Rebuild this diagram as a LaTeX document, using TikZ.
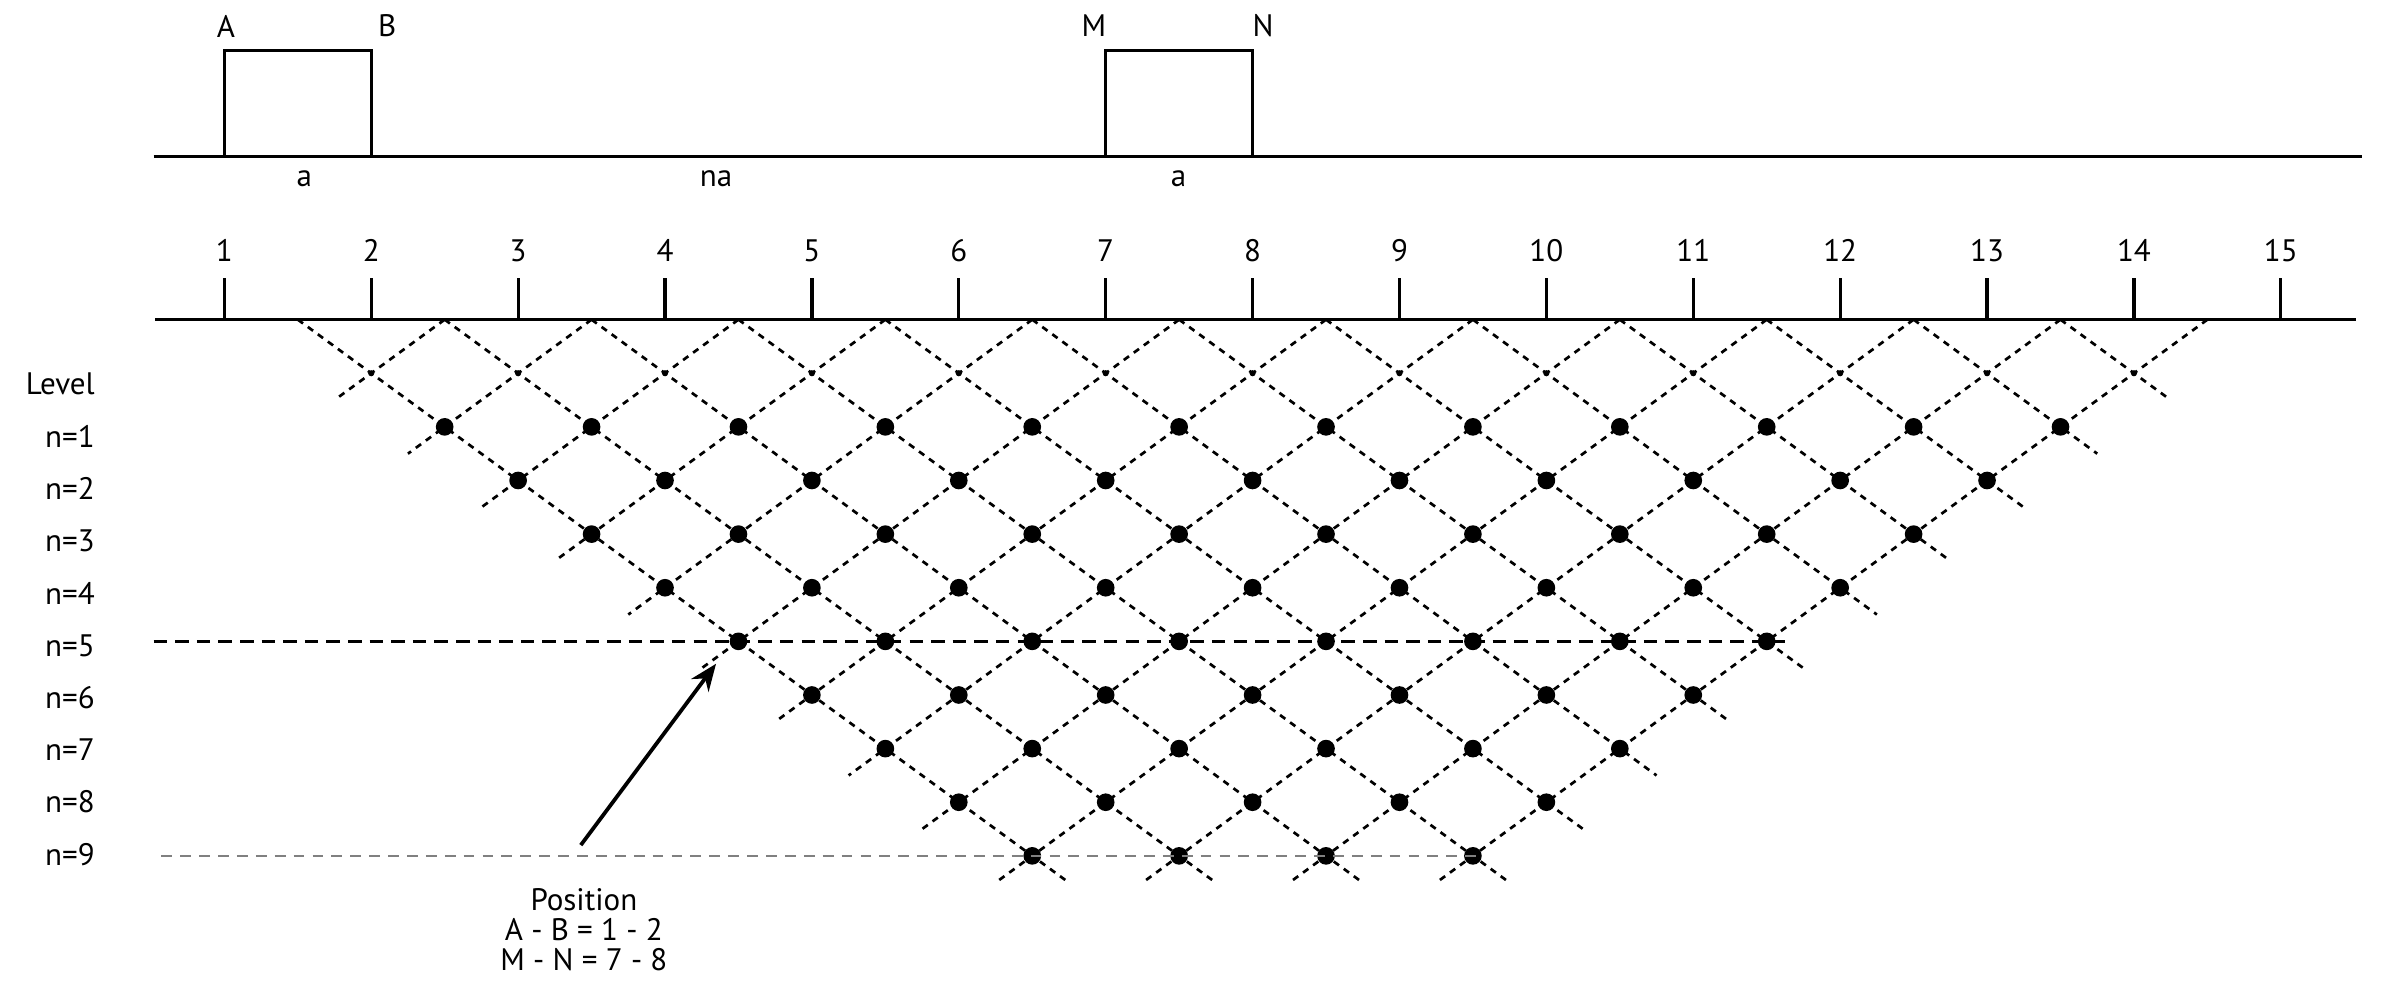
\documentclass[tikz,border=0pt]{standalone}
\usepackage{fontspec}
\setmainfont{PT Sans}
\usetikzlibrary{arrows.meta}
\begin{document}
\begin{tikzpicture}[x=0.02cm,y=-0.02cm,
  solid line/.style={line width=1.2pt},
  lat/.style={line width=1pt,dash pattern=on 2.4pt off 2.2pt},
  lbl/.style={font=\fontsize{11.5}{13}\selectfont,inner sep=0pt},
  bigdot/.style={circle,fill=black,inner sep=0pt,minimum size=0.23cm},
  smalldot/.style={circle,fill=black,inner sep=0pt,minimum size=0.08cm}]
\useasboundingbox (0,0) rectangle (1560,650);
% top array
\draw[solid line] (100,102) -- (1537,102);
\draw[solid line] (146,102) |- (241.6,33) -- (241.6,102);
\draw[solid line] (719.6,102) |- (815.2,33) -- (815.2,102);
\node[lbl] (lA) at (147,17) {A};
\node[lbl] (lB) at (252,17) {B};
\node[lbl] (lM) at (712,17) {M};
\node[lbl] (lN) at (822,17) {N};
\node[lbl] (la1) at (198,116) {a};
\node[lbl] (lna) at (466,116) {na};
\node[lbl] (la2) at (767,116) {a};
% electrode line
\draw[solid line] (101,208) -- (1533,208);
\foreach \i in {1,...,15}{
  \pgfmathsetmacro\xe{146+95.6*(\i-1)}
  \draw[solid line] (\xe,181) -- (\xe,208);
  \node[lbl] (e\i) at (\xe,163) {\i};
}
% lattice lines
\foreach \k in {0,...,13}{
  \pgfmathsetmacro\xo{146+95.6*(\k+0.5)}
  \pgfmathsetmacro\tr{min(13-\k,10)+0.5}
  \pgfmathsetmacro\tl{min(\k,10)+0.5}
  \ifnum\k<13 \draw[lat] (\xo,208) -- ++({47.8*\tr},{34.9*\tr}); \fi
  \ifnum\k>0 \draw[lat] (\xo,208) -- ++({-47.8*\tl},{34.9*\tl}); \fi
}
% small dots at level 0
\foreach \j in {0,...,12}{
  \node[smalldot] (s\j) at ({146+95.6*(1+\j)},{208+34.9}) {};
}
% big dots
\foreach \t in {2,...,10}{
  \pgfmathtruncatemacro\nmax{13-\t}
  \foreach \j in {0,...,\nmax}{
    \node[bigdot] (d\t-\j) at ({146+95.6*(\t/2+0.5+\j)},{208+34.9*\t}) {};
  }
}
% level labels
\node[lbl,anchor=east] (lev) at (62,250) {Level};
\foreach \n in {1,...,9}{
  \node[lbl,anchor=east] (n\n) at (62,{250+34*\n}) {n=\n};
}
% horizontal dashed lines
\coordinate (h5a) at (100,417.4);
\coordinate (h5b) at (1162,417.4);
\draw[line width=1pt,dash pattern=on 5pt off 3pt] (h5a) -- (h5b);
\coordinate (h9a) at (105,557);
\coordinate (h9b) at (962,557);
\draw[line width=0.7pt,gray,dash pattern=on 4pt off 3pt] (h9a) -- (h9b);
% arrow
\node[lbl,align=center] (pos) at (380,605) {Position\\[-2pt]A - B = 1 - 2\\[-2pt]M - N = 7 - 8};
\coordinate (tip) at (466,432);
\draw[line width=1.4pt,-{Stealth[length=10pt,width=8pt]}] (378,550) -- (tip);
\end{tikzpicture}
\end{document}
